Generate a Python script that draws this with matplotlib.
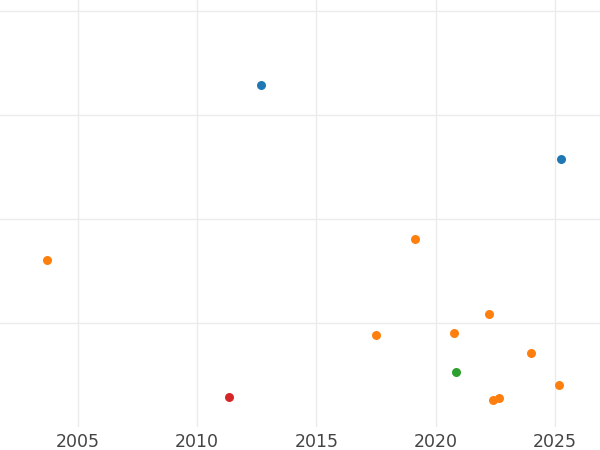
import matplotlib
matplotlib.use("Agg")
import matplotlib.pyplot as plt

# ---- data -------------------------------------------------------------
blue_x = [2012.67, 2025.25]
blue_y = [3.29, 2.58]

orange_x = [2003.70, 2019.13, 2022.23, 2017.49, 2020.77, 2023.99, 2025.17, 2022.42, 2022.64]
orange_y = [1.61, 1.81, 1.09, 0.88, 0.90, 0.71, 0.40, 0.26, 0.28]

green_x = [2020.85]
green_y = [0.53]

red_x = [2011.33]
red_y = [0.29]

x_ticks = [2005, 2010, 2015, 2020, 2025]
y_ticks = [1, 2, 3, 4]

# ---- plot -------------------------------------------------------------
fig = plt.figure(figsize=(6, 4.5), dpi=100)
ax = fig.add_axes([0, 23 / 450, 1, 1 - 23 / 450])

for xs, ys, c in [(blue_x, blue_y, "#1f77b4"),
                  (orange_x, orange_y, "#ff7f0e"),
                  (green_x, green_y, "#2ca02c"),
                  (red_x, red_y, "#d62728")]:
    ax.scatter(xs, ys, s=42, color=c, linewidths=0, zorder=3)

ax.set_xlim(2001.73, 2026.89)
ax.set_ylim(0, 4.106)
ax.set_xticks(x_ticks)
ax.set_xticklabels([str(t) for t in x_ticks])
ax.set_yticks(y_ticks)
ax.set_yticklabels([])
ax.tick_params(length=0, labelsize=12.5, labelcolor="#444444", pad=4)
ax.grid(True, color="#ebebeb", linewidth=1.0)
ax.set_axisbelow(True)
for s in ax.spines.values():
    s.set_visible(False)

fig.savefig("out.png", dpi=100)
